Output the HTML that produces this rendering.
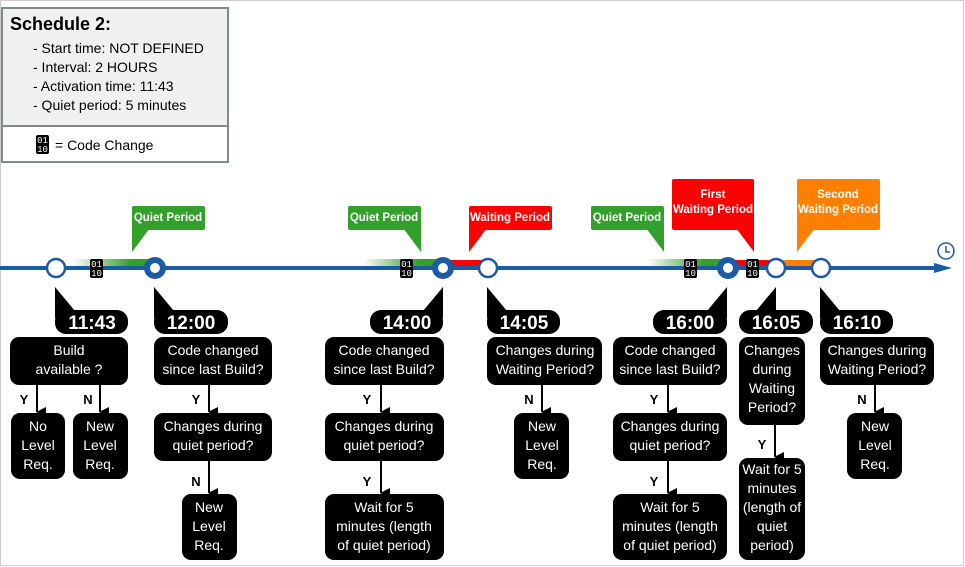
<!DOCTYPE html>
<html><head><meta charset="utf-8"><style>
body{margin:0;background:#fff}
svg{display:block;font-family:"Liberation Sans",sans-serif}
.b{fill:#000}
.t{fill:#fff;font-size:14px;text-anchor:middle}
.c{fill:#fff;font-size:11.5px;font-weight:bold;text-anchor:middle}
.tm{fill:#fff;font-size:19px;font-weight:bold;text-anchor:middle}
.yn{font-size:13px;font-weight:bold;text-anchor:middle}
</style></head><body>
<svg width="965" height="567" viewBox="0 0 965 567">
<defs>
<linearGradient id="g" x1="0" x2="1"><stop offset="0" stop-color="#34a02c" stop-opacity="0"/><stop offset="0.7" stop-color="#34a02c"/></linearGradient>
<marker id="ah" markerWidth="10" markerHeight="10" refX="5" refY="9" orient="auto" markerUnits="userSpaceOnUse"><path d="M0,0 L10,0 L5,10z" fill="#000"/></marker>
<g id="code"><rect x="0" y="0" width="13" height="19" rx="2" fill="#000"/><text x="6.5" y="8" font-size="9" fill="#fff" text-anchor="middle" font-family="Liberation Mono">01</text><text x="6.5" y="17" font-size="9" fill="#fff" text-anchor="middle" font-family="Liberation Mono">10</text></g>
</defs>
<rect x="0.5" y="0.5" width="963" height="565" fill="#fff" stroke="#ccc"/>
<rect x="2" y="8" width="226" height="118" fill="#f0f0f0"/>
<rect x="2" y="8" width="226" height="154" fill="none" stroke="#7f8c8c" stroke-width="2"/>
<line x1="2" y1="126" x2="228" y2="126" stroke="#7f8c8c" stroke-width="2"/>
<text x="10" y="30" font-size="18" font-weight="bold">Schedule 2:</text>
<g font-size="14"><text x="33" y="53">- Start time:  NOT DEFINED</text><text x="33" y="72">- Interval:  2 HOURS</text><text x="33" y="91">- Activation time:  11:43</text><text x="33" y="110">- Quiet period: 5 minutes</text><text x="55" y="150">= Code Change</text></g>
<use href="#code" x="36" y="135"/>
<rect x="73" y="259" width="82" height="7" fill="url(#g)"/>
<rect x="363" y="259" width="80" height="7" fill="url(#g)"/>
<rect x="443" y="260" width="45" height="7" fill="#f00"/>
<rect x="647" y="259" width="81" height="7" fill="url(#g)"/>
<rect x="728" y="260" width="48" height="7" fill="#f00"/>
<rect x="776" y="260" width="45" height="7" fill="#ff8000"/>
<line x1="0" y1="268" x2="938" y2="268" stroke="#1b5aa6" stroke-width="4"/>
<path d="M934,263 L952,268 L934,273z" fill="#1b5aa6"/>
<circle cx="946" cy="251" r="8" fill="none" stroke="#1b5aa6" stroke-width="1.5"/><path d="M946,246 V252 H950" fill="none" stroke="#1b5aa6" stroke-width="1.5"/>
<use href="#code" x="90" y="259"/><use href="#code" x="400" y="259"/><use href="#code" x="684" y="259"/><use href="#code" x="746" y="259"/>
<g fill="#fff" stroke="#1b5aa6">
<circle cx="56" cy="268" r="9" stroke-width="2.5"/><circle cx="488" cy="268" r="9" stroke-width="2.5"/><circle cx="776" cy="268" r="9" stroke-width="2.5"/><circle cx="821" cy="268" r="9" stroke-width="2.5"/>
<circle cx="155" cy="268" r="8" stroke-width="6"/><circle cx="443" cy="268" r="8" stroke-width="6"/><circle cx="728" cy="268" r="8" stroke-width="6"/>
</g>
<g fill="#34a02c"><rect x="132" y="206" width="73" height="24" rx="2"/><path d="M132,228 V252 L150,228z"/>
<rect x="348" y="206" width="73" height="24" rx="2"/><path d="M421,228 V252 L403,228z"/>
<rect x="591" y="206" width="73" height="24" rx="2"/><path d="M664,228 V252 L646,228z"/></g>
<g fill="#f00"><rect x="469" y="206" width="83" height="24" rx="2"/><path d="M469,228 V252 L487,228z"/>
<rect x="672" y="179" width="82" height="51" rx="2"/><path d="M754,228 V252 L736,228z"/></g>
<g fill="#ff8000"><rect x="797" y="179" width="83" height="51" rx="2"/><path d="M797,228 V252 L815,228z"/></g>
<text class="c" x="168" y="221">Quiet Period</text><text class="c" x="384" y="221">Quiet Period</text><text class="c" x="627" y="221">Quiet Period</text>
<text class="c" x="510" y="221">Waiting Period</text>
<text class="c" x="713" y="198">First</text><text class="c" x="713" y="213">Waiting Period</text>
<text class="c" x="838" y="198">Second</text><text class="c" x="838" y="213">Waiting Period</text>
<g class="b">
<rect x="55" y="310" width="73" height="24" rx="11"/><path d="M55,287 V318 L75,311z"/>
<rect x="154" y="310" width="74" height="24" rx="11"/><path d="M154,287 V318 L174,311z"/>
<rect x="370" y="310" width="73" height="24" rx="11"/><path d="M443,287 V318 L423,311z"/>
<rect x="487" y="310" width="73" height="24" rx="11"/><path d="M487,287 V318 L507,311z"/>
<rect x="653" y="310" width="74" height="24" rx="11"/><path d="M727,287 V318 L707,311z"/>
<rect x="739" y="310" width="74" height="24" rx="11"/><path d="M776,287 V318 L756,311z"/>
<rect x="820" y="310" width="73" height="24" rx="11"/><path d="M820,287 V318 L840,311z"/>
</g>
<text class="tm" x="92" y="329">11:43</text><text class="tm" x="191" y="329">12:00</text><text class="tm" x="407" y="329">14:00</text><text class="tm" x="524" y="329">14:05</text><text class="tm" x="690" y="329">16:00</text><text class="tm" x="776" y="329">16:05</text><text class="tm" x="857" y="329">16:10</text>
<g class="b">
<rect x="10" y="337" width="118" height="48" rx="9"/>
<rect x="11" y="413" width="54" height="66" rx="9"/><rect x="73" y="413" width="55" height="66" rx="9"/>
<rect x="154" y="337" width="118" height="48" rx="9"/><rect x="154" y="413" width="118" height="48" rx="9"/><rect x="182" y="494" width="55" height="66" rx="9"/>
<rect x="325" y="337" width="119" height="48" rx="9"/><rect x="325" y="413" width="119" height="48" rx="9"/><rect x="325" y="494" width="119" height="66" rx="9"/>
<rect x="487" y="337" width="115" height="48" rx="9"/><rect x="514" y="413" width="55" height="66" rx="9"/>
<rect x="613" y="337" width="114" height="48" rx="9"/><rect x="613" y="413" width="114" height="48" rx="9"/><rect x="613" y="494" width="114" height="66" rx="9"/>
<rect x="739" y="337" width="66" height="88" rx="9"/><rect x="739" y="458" width="66" height="102" rx="9"/>
<rect x="820" y="337" width="114" height="48" rx="9"/><rect x="847" y="413" width="55" height="66" rx="9"/>
</g>
<g class="t">
<text x="69" y="355">Build</text><text x="69" y="374">available ?</text>
<text x="38" y="431">No</text><text x="38" y="450">Level</text><text x="38" y="469">Req.</text>
<text x="100" y="431">New</text><text x="100" y="450">Level</text><text x="100" y="469">Req.</text>
<text x="213" y="355">Code changed</text><text x="213" y="374">since last Build?</text>
<text x="213" y="431">Changes during</text><text x="213" y="450">quiet period?</text>
<text x="209" y="512">New</text><text x="209" y="531">Level</text><text x="209" y="550">Req.</text>
<text x="384" y="355">Code changed</text><text x="384" y="374">since last Build?</text>
<text x="384" y="431">Changes during</text><text x="384" y="450">quiet period?</text>
<text x="384" y="512">Wait for 5</text><text x="384" y="531">minutes (length</text><text x="384" y="550">of quiet period)</text>
<text x="545" y="355">Changes during</text><text x="545" y="374">Waiting Period?</text>
<text x="542" y="431">New</text><text x="542" y="450">Level</text><text x="542" y="469">Req.</text>
<text x="670" y="355">Code changed</text><text x="670" y="374">since last Build?</text>
<text x="670" y="431">Changes during</text><text x="670" y="450">quiet period?</text>
<text x="670" y="512">Wait for 5</text><text x="670" y="531">minutes (length</text><text x="670" y="550">of quiet period)</text>
<text x="772" y="355">Changes</text><text x="772" y="374">during</text><text x="772" y="393">Waiting</text><text x="772" y="412">Period?</text>
<text x="772" y="474">Wait for 5</text><text x="772" y="493">minutes</text><text x="772" y="512">(length of</text><text x="772" y="531">quiet</text><text x="772" y="550">period)</text>
<text x="877" y="355">Changes during</text><text x="877" y="374">Waiting Period?</text>
<text x="875" y="431">New</text><text x="875" y="450">Level</text><text x="875" y="469">Req.</text>
</g>
<g stroke="#000" stroke-width="2" marker-end="url(#ah)">
<line x1="37" y1="385" x2="37" y2="412"/><line x1="100" y1="385" x2="100" y2="412"/>
<line x1="209" y1="385" x2="209" y2="412"/><line x1="209" y1="461" x2="209" y2="493"/>
<line x1="381" y1="385" x2="381" y2="412"/><line x1="381" y1="461" x2="381" y2="493"/>
<line x1="542" y1="385" x2="542" y2="412"/>
<line x1="668" y1="385" x2="668" y2="412"/><line x1="668" y1="461" x2="668" y2="493"/>
<line x1="775" y1="425" x2="775" y2="457"/>
<line x1="875" y1="385" x2="875" y2="412"/>
</g>
<g class="yn">
<text x="24" y="404">Y</text><text x="88" y="404">N</text><text x="196" y="404">Y</text><text x="196" y="486">N</text>
<text x="367" y="404">Y</text><text x="367" y="486">Y</text><text x="529" y="404">N</text>
<text x="654" y="404">Y</text><text x="654" y="486">Y</text><text x="762" y="449">Y</text><text x="862" y="404">N</text>
</g>
</svg>
</body></html>
